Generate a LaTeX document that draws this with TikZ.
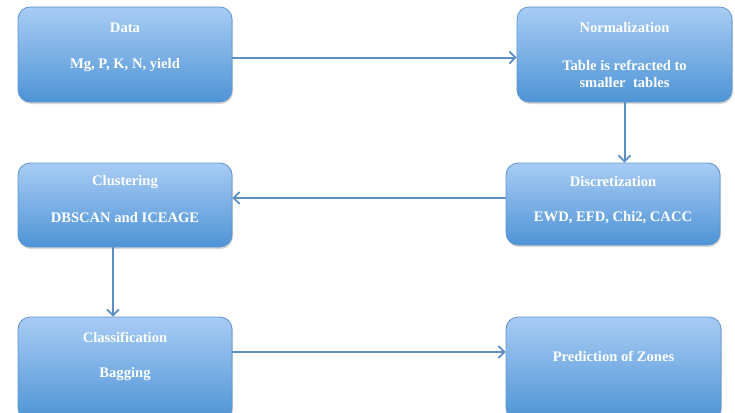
\documentclass[tikz,border=0pt]{standalone}
\usepackage{fontspec}
\setmainfont{Liberation Serif}
\usetikzlibrary{arrows.meta,shadows}
\definecolor{boxtop}{RGB}{168,204,244}
\definecolor{boxbot}{RGB}{78,148,214}
\definecolor{boxedge}{RGB}{98,148,204}
\definecolor{conn}{RGB}{92,142,198}
\begin{document}
\begin{tikzpicture}[x=1pt,y=-1pt,
  box/.style={draw=boxedge, line width=0.8pt, rounded corners=12pt,
    top color=boxtop, bottom color=boxbot, inner sep=0pt,
    drop shadow={shadow xshift=1pt, shadow yshift=-2pt, opacity=0.3}},
  txt/.style={text=white, font=\bfseries\fontsize{14.6}{17}\selectfont, inner sep=0pt},
  link/.style={draw=conn, line width=2pt, -{Straight Barb[length=6pt,width=12pt,line width=1.8pt]}}]
\useasboundingbox (0,0) rectangle (735,412);
\clip (0,0) rectangle (735,412);
\fill[white] (0,0) rectangle (735,412);
% boxes
\node[box, minimum width=214pt, minimum height=95pt] (data) at (125,54.5) {};
\node[box, minimum width=215pt, minimum height=95pt] (norm) at (624.5,54.5) {};
\node[box, minimum width=214pt, minimum height=82pt] (disc) at (613,204) {};
\node[box, minimum width=214pt, minimum height=84pt] (clust) at (125,205) {};
\node[box, minimum width=214pt, minimum height=103pt] (class) at (125,368.5) {};
\node[box, minimum width=215pt, minimum height=103pt] (pred) at (613.5,368.5) {};
% texts
\node[txt] (t1) at (125,28) {Data};
\node[txt] (t2) at (125,65) {Mg, P, K, N, yield};
\node[txt] (t3) at (624.5,28) {Normalization};
\node[txt] (t4) at (624.5,65) {Table is refracted to};
\node[txt] (t5) at (624.5,83) {smaller\ \ tables};
\node[txt] (t6) at (613,182) {Discretization};
\node[txt] (t7) at (613,218) {EWD, EFD, Chi2, CACC};
\node[txt] (t8) at (125,182) {Clustering};
\node[txt] (t9) at (125,218) {DBSCAN and ICEAGE};
\node[txt] (t10) at (125,337) {Classification};
\node[txt] (t11) at (125,374) {Bagging};
\node[txt] (t12) at (613.5,356) {Prediction of Zones};
% connectors
\draw[link] ([yshift=-3pt]data.east) -- ([yshift=-3pt]norm.west);
\draw[link] (norm.south) -- (norm.south |- disc.north);
\draw[link] ([yshift=6pt]disc.west) -- ([yshift=6pt]disc.west -| clust.east);
\draw[link] ([xshift=-12pt]clust.south) -- ([xshift=-12pt]clust.south |- class.north);
\draw[link] ([yshift=16.5pt]class.east) -- ([yshift=16.5pt]class.east -| pred.west);
\end{tikzpicture}
\end{document}
